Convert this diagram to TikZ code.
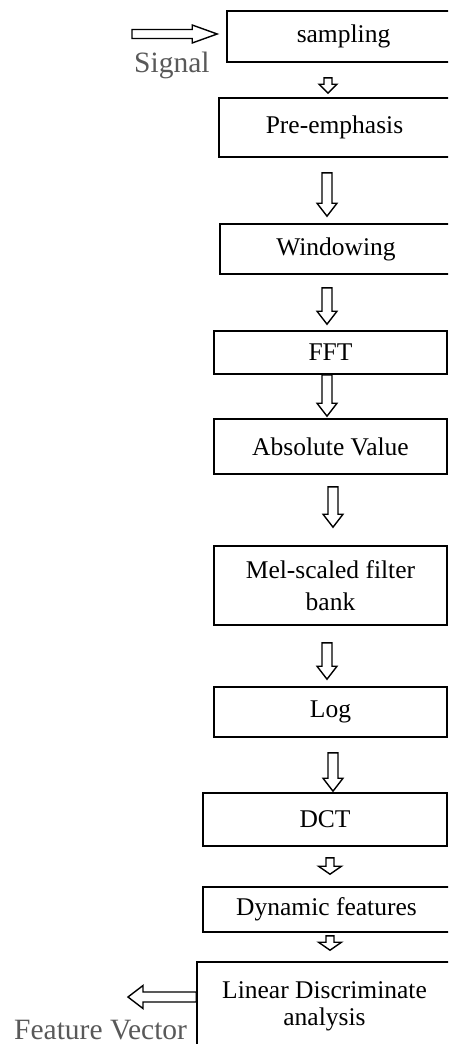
\documentclass[tikz,border=0pt]{standalone}
\usepackage{fontspec}
\setmainfont{Liberation Serif}
\usepackage{tikz}
\definecolor{lblgray}{RGB}{89,89,89}
\usetikzlibrary{calc}

% hollow block arrow drawn between two points
\tikzset{
  ba sw/.store in=\basw, ba hw/.store in=\bahw, ba hl/.store in=\bahl,
  ba sw=5pt, ba hw=10pt, ba hl=13pt,
  stage/.style={draw, line width=1.6pt, inner sep=0pt, align=center,
    font=\fontsize{25.5}{32}\selectfont},
  blockarrow/.style={draw, line width=1.4pt, to path={
      ($(\tikztotarget)!\bahl!(\tikztostart)$) coordinate (ba-h)
      ($(\tikztostart)!\basw!90:(\tikztotarget)$)
      -- ($(ba-h)!\basw!90:(\tikztotarget)$)
      -- ($(ba-h)!\bahw!90:(\tikztotarget)$)
      -- (\tikztotarget)
      -- ($(ba-h)!\bahw!-90:(\tikztotarget)$)
      -- ($(ba-h)!\basw!-90:(\tikztotarget)$)
      -- ($(\tikztostart)!\basw!-90:(\tikztotarget)$)
      -- cycle}},
  smallarrow/.style={blockarrow, ba sw=4pt, ba hw=9pt, ba hl=9pt},
  lbl/.style={text=lblgray, inner sep=0pt, anchor=base west,
    font=\fontsize{29.5}{34}\selectfont}
}

\begin{document}
\begin{tikzpicture}[x=1pt, y=-1pt]
  \useasboundingbox (0,0) rectangle (448,1044);
  \clip (0,0) rectangle (448,1044);

  % Processing stages, top to bottom
  \node[stage, minimum width=233, minimum height=51] (samp) at (343.5,36.5) {sampling};
  \node[stage, minimum width=231, minimum height=59] (pre) at (334.5,127.5) {Pre-emphasis};
  \node[stage, minimum width=232, minimum height=50] (win) at (336,249) {Windowing};
  \node[stage, minimum width=233, minimum height=43] (fft) at (330.5,352.5) {FFT};
  \node[stage, minimum width=233, minimum height=55] (absv) at (330.5,446.5) {Absolute Value};
  \node[stage, minimum width=233, minimum height=79] (mel) at (330.5,585.5) {Mel-scaled filter\\bank};
  \node[stage, minimum width=233, minimum height=50] (log) at (330.5,712) {Log};
  \node[stage, minimum width=244, minimum height=53] (dct) at (325,819.5) {DCT};
  \node[stage, minimum width=247, minimum height=45] (dyn) at (326.5,909.5) {Dynamic features};
  \node[stage, minimum width=255, minimum height=88] (lda) at (324.5,1006) {Linear Discriminate\\[-5pt]analysis};

  % Arrows between stages
  \draw[smallarrow] ([xshift=-15.5pt,yshift=-15pt]samp.south) to ([xshift=-6.5pt,yshift=4pt]pre.north);
  \draw[blockarrow] ([xshift=-7.5pt,yshift=-15pt]pre.south) to ([xshift=-9pt,yshift=7pt]win.north);
  \draw[blockarrow] ([xshift=-9pt,yshift=-13pt]win.south) to ([xshift=-3.5pt,yshift=6pt]fft.north);
  \draw[blockarrow] ([xshift=-3.5pt]fft.south) to ([xshift=-3.5pt,yshift=2pt]absv.north);
  \draw[blockarrow] ([xshift=2.5pt,yshift=-12pt]absv.south) to ([xshift=2.5pt,yshift=18pt]mel.north);
  \draw[blockarrow] ([xshift=-3.5pt,yshift=-17pt]mel.south) to ([xshift=-3.5pt,yshift=7pt]log.north);
  \draw[blockarrow] ([xshift=2.5pt,yshift=-15pt]log.south) to ([xshift=8pt,yshift=1pt]dct.north);
  \draw[smallarrow, ba hw=11.5pt, ba hl=8pt] ([xshift=5pt,yshift=-11pt]dct.south) to ([xshift=3.5pt,yshift=12pt]dyn.north);
  \draw[smallarrow, ba hw=11.5pt, ba hl=8pt] ([xshift=3.5pt,yshift=-3pt]dyn.south) to ([xshift=5.5pt,yshift=11pt]lda.north);

  % Input signal
  \coordinate (sigin) at (132,34);
  \draw[blockarrow, ba sw=4.5pt, ba hw=9pt, ba hl=25pt] (sigin) to ([xshift=-9pt,yshift=2.5pt]samp.west);
  \node[lbl] (siglbl) at (134,72) {Signal};

  % Output feature vector
  \coordinate (fvout) at (128,997);
  \draw[blockarrow, ba hw=11.5pt, ba hl=15pt] ([yshift=9pt]lda.west) to (fvout);
  \node[lbl] (fvlbl) at (14,1039) {Feature Vector};
\end{tikzpicture}
\end{document}
